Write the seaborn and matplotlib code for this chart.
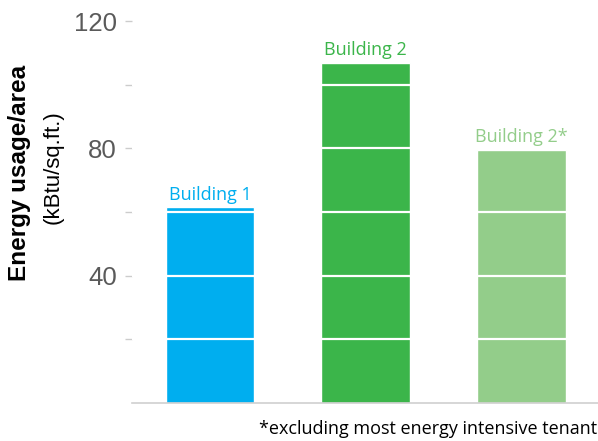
import matplotlib
matplotlib.use("Agg")
import matplotlib.pyplot as plt
import seaborn as sns
import pandas as pd

buildings = ["Building 1", "Building 2", "Building 2*"]
usage = [61.5, 107, 79.5]
colors = ["#00AEEF", "#3BB54A", "#93CD8A"]
major_ticks = [40, 80, 120]
minor_ticks = [20, 60, 100]
grid_values = [20, 40, 60, 80, 100]

sns.set_theme(style="white")
plt.rcParams["font.family"] = ["Liberation Sans", "DejaVu Sans"]

df = pd.DataFrame({"building": buildings, "usage": usage})

fig = plt.figure(figsize=(5.98, 4.41), dpi=100)
ax = fig.add_axes([0.221, 0.086, 0.779, 0.866])

sns.barplot(data=df, x="building", y="usage", hue="building",
            palette=colors, legend=False, width=0.57, saturation=1,
            ax=ax, zorder=2)

# white rules across the bars
for g in grid_values:
    ax.axhline(g, color="white", lw=1.6, zorder=3)

for i, (name, val, c) in enumerate(zip(buildings, usage, colors)):
    ax.text(i, val + 1.2, name, color=c, ha="center", va="bottom",
            fontsize=13, family=["Open Sans", "DejaVu Sans"], zorder=4)

ax.set_xlim(-0.5, 2.49)
ax.set_ylim(0, 120)
ax.set_yticks(major_ticks)
ax.set_yticks(minor_ticks, minor=True)
ax.set_yticklabels([str(t) for t in major_ticks], fontsize=18.5, color="#5a5a5a")
ax.tick_params(axis="y", which="both", left=True, length=5, width=1,
               color="#cccccc", pad=6)
ax.tick_params(axis="x", bottom=False, labelbottom=False)
ax.set_xlabel("")
ax.set_ylabel("")
for side in ["left", "top", "right"]:
    ax.spines[side].set_visible(False)
ax.spines["bottom"].set_color("#d0d0d0")
ax.spines["bottom"].set_linewidth(1.2)

fig.text(0.032, 0.608, "Energy usage/area", rotation=90, ha="center",
         va="center", fontsize=17.5, fontweight="bold", color="black")
fig.text(0.089, 0.622, "(kBtu/sq.ft.)", rotation=90, ha="center",
         va="center", fontsize=16, color="black")
fig.text(0.998, 0.028, "*excluding most energy intensive tenant",
         ha="right", va="center", fontsize=13,
         family=["Open Sans", "DejaVu Sans"], color="black")

fig.savefig("out.png", dpi=100)
